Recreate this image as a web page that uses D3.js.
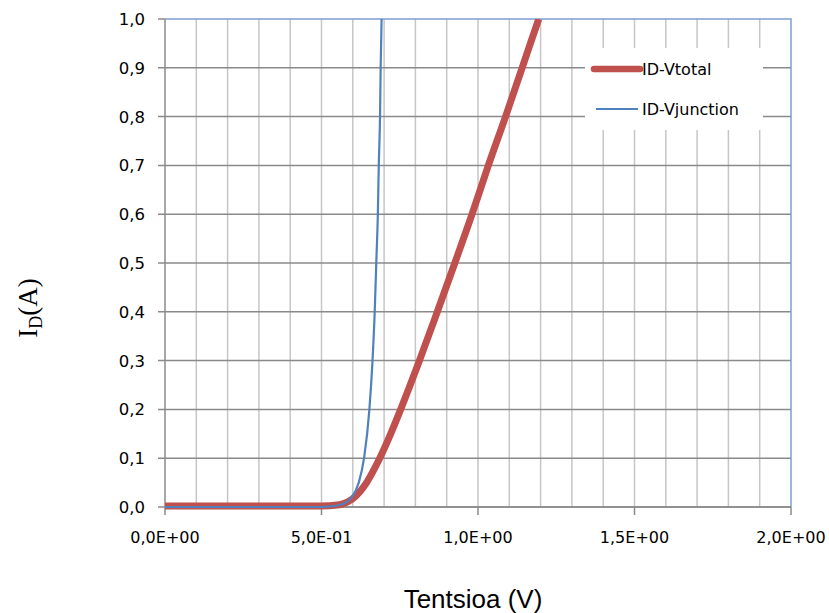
<!DOCTYPE html>
<html>
<head>
<meta charset="utf-8">
<script src="https://cdn.jsdelivr.net/npm/d3@7"></script>
<style>
  body { margin: 0; background: #fff; }
  svg { display: block; }
</style>
</head>
<body>
<div class="chart"></div>
<script>
var svgWidth = 829;
var svgHeight = 613;

// plot area edges in pixels
var plot = { left: 165, right: 791, top: 19, bottom: 507 };

// series: voltage (V) / current (A)
var vTotal = [0, 0.3, 0.5, 0.55, 0.5655, 0.5975, 0.622, 0.644, 0.662, 0.686, 0.721, 0.753, 0.813, 0.870, 0.926, 0.981, 1.033, 1.088, 1.141, 1.194];
var iTotal = [0.002, 0.002, 0.002, 0.004, 0.006, 0.016, 0.031, 0.05, 0.07, 0.1, 0.15, 0.2, 0.3, 0.4, 0.5, 0.6, 0.7, 0.8, 0.9, 1.0];

var vJunction = [0, 0.3, 0.5, 0.524, 0.541, 0.563, 0.58, 0.597, 0.619, 0.636, 0.653, 0.663, 0.67, 0.675, 0.68, 0.683, 0.687, 0.689, 0.692];
var iJunction = [0, 0, 0, 0.001, 0.002, 0.005, 0.01, 0.02, 0.05, 0.1, 0.2, 0.3, 0.4, 0.5, 0.6, 0.7, 0.8, 0.9, 1.0];

var xTicks = [0, 0.5, 1.0, 1.5, 2.0];
var xTickLabels = ["0,0E+00", "5,0E-01", "1,0E+00", "1,5E+00", "2,0E+00"];
var xGrid = [0.1, 0.2, 0.3, 0.4, 0.5, 0.6, 0.7, 0.8, 0.9, 1.0, 1.1, 1.2, 1.3, 1.4, 1.5, 1.6, 1.7, 1.8, 1.9];
var yTicks = [0, 0.1, 0.2, 0.3, 0.4, 0.5, 0.6, 0.7, 0.8, 0.9, 1.0];
var yTickLabels = ["0,0", "0,1", "0,2", "0,3", "0,4", "0,5", "0,6", "0,7", "0,8", "0,9", "1,0"];

var seriesNames = ["ID-Vtotal", "ID-Vjunction"];

var svg = d3.select(".chart")
  .append("svg")
  .attr("width", svgWidth)
  .attr("height", svgHeight);

var xScale = d3.scaleLinear()
  .domain([0, 2])
  .range([plot.left, plot.right]);

var yScale = d3.scaleLinear()
  .domain([0, 1])
  .range([plot.bottom, plot.top]);

// vertical gridlines (light)
svg.append("g")
  .selectAll("line")
  .data(xGrid)
  .enter()
  .append("line")
  .attr("x1", function(d) { return xScale(d); })
  .attr("x2", function(d) { return xScale(d); })
  .attr("y1", plot.top)
  .attr("y2", plot.bottom)
  .attr("stroke", "#c6c6c6")
  .attr("stroke-width", 1.5);

// horizontal gridlines (darker), running out as tick marks on the left
svg.append("g")
  .selectAll("line")
  .data(yTicks.slice(0, yTicks.length - 1))
  .enter()
  .append("line")
  .attr("x1", plot.left - 7)
  .attr("x2", plot.right)
  .attr("y1", function(d) { return yScale(d); })
  .attr("y2", function(d) { return yScale(d); })
  .attr("stroke", "#8a8a8a")
  .attr("stroke-width", 1.5);

// top tick mark
svg.append("line")
  .attr("x1", plot.left - 7)
  .attr("x2", plot.left)
  .attr("y1", yScale(1))
  .attr("y2", yScale(1))
  .attr("stroke", "#8a8a8a")
  .attr("stroke-width", 1.5);

// plot area border top / right (blue)
svg.append("path")
  .attr("d", "M" + plot.left + "," + plot.top + "H" + plot.right + "V" + plot.bottom)
  .attr("fill", "none")
  .attr("stroke", "#7f9fcf")
  .attr("stroke-width", 1.5);

// axes
svg.append("line")
  .attr("x1", plot.left).attr("x2", plot.left)
  .attr("y1", plot.top).attr("y2", plot.bottom)
  .attr("stroke", "#8a8a8a").attr("stroke-width", 1.5);

svg.append("line")
  .attr("x1", plot.left).attr("x2", plot.right)
  .attr("y1", plot.bottom).attr("y2", plot.bottom)
  .attr("stroke", "#8a8a8a").attr("stroke-width", 1.5);

svg.append("g")
  .selectAll("line")
  .data(xTicks)
  .enter()
  .append("line")
  .attr("x1", function(d) { return xScale(d); })
  .attr("x2", function(d) { return xScale(d); })
  .attr("y1", plot.bottom)
  .attr("y2", plot.bottom + 8)
  .attr("stroke", "#8a8a8a")
  .attr("stroke-width", 1.5);

// tick labels
svg.append("g")
  .selectAll("text")
  .data(xTicks)
  .enter()
  .append("text")
  .text(function(d, i) { return xTickLabels[i]; })
  .attr("x", function(d) { return xScale(d); })
  .attr("y", plot.bottom + 36)
  .attr("text-anchor", "middle")
  .attr("font-family", "DejaVu Sans")
  .attr("font-size", 16)
  .attr("fill", "#000");

svg.append("g")
  .selectAll("text")
  .data(yTicks)
  .enter()
  .append("text")
  .text(function(d, i) { return yTickLabels[i]; })
  .attr("x", 145)
  .attr("y", function(d) { return yScale(d) + 6; })
  .attr("text-anchor", "end")
  .attr("font-family", "DejaVu Sans")
  .attr("font-size", 16.5)
  .attr("fill", "#000");

// legend box hides gridlines
var legend = svg.append("g");
legend.append("rect")
  .attr("x", 585)
  .attr("y", 48)
  .attr("width", 178)
  .attr("height", 82)
  .attr("fill", "#fff");

// curves
svg.append("clipPath")
  .attr("id", "plotClip")
  .append("rect")
  .attr("x", plot.left)
  .attr("y", plot.top)
  .attr("width", plot.right - plot.left)
  .attr("height", plot.bottom - plot.top + 4);

var line = d3.line()
  .x(function(d) { return xScale(d[0]); })
  .y(function(d) { return yScale(d[1]); })
  .curve(d3.curveMonotoneX);

var totalData = vTotal.map(function(v, i) { return [v, iTotal[i]]; });
var junctionData = vJunction.map(function(v, i) { return [v, iJunction[i]]; });

svg.append("path")
  .datum(totalData)
  .attr("clip-path", "url(#plotClip)")
  .attr("d", line)
  .attr("fill", "none")
  .attr("stroke", "#c0504d")
  .attr("stroke-width", 7);

svg.append("path")
  .datum(junctionData)
  .attr("clip-path", "url(#plotClip)")
  .attr("d", line)
  .attr("fill", "none")
  .attr("stroke", "#4f81bd")
  .attr("stroke-width", 2.2);

// legend entries
legend.append("line")
  .attr("x1", 594).attr("x2", 640)
  .attr("y1", 69).attr("y2", 69)
  .attr("stroke", "#c0504d")
  .attr("stroke-width", 6.5)
  .attr("stroke-linecap", "round");

legend.append("line")
  .attr("x1", 596).attr("x2", 638)
  .attr("y1", 109).attr("y2", 109)
  .attr("stroke", "#4f81bd")
  .attr("stroke-width", 2.2);

legend.selectAll("text.name")
  .data(seriesNames)
  .enter()
  .append("text")
  .attr("class", "name")
  .text(function(d) { return d; })
  .attr("x", 642)
  .attr("y", function(d, i) { return 75 + i * 40; })
  .attr("font-family", "DejaVu Sans")
  .attr("font-size", 16)
  .attr("fill", "#000");

// axis titles
svg.append("text")
  .text("Tentsioa (V)")
  .attr("x", 473)
  .attr("y", 608)
  .attr("text-anchor", "middle")
  .attr("font-family", "Liberation Sans, Arial")
  .attr("font-size", 26)
  .attr("fill", "#000");

var yTitle = svg.append("text")
  .attr("transform", "translate(37, 308) rotate(-90)")
  .attr("text-anchor", "middle")
  .attr("font-family", "Liberation Serif, serif")
  .attr("font-size", 27)
  .attr("fill", "#000");
yTitle.append("tspan").text("I");
yTitle.append("tspan").text("D").attr("font-size", 18).attr("dy", 5);
yTitle.append("tspan").text("(A)").attr("dy", -5);
</script>
</body>
</html>
